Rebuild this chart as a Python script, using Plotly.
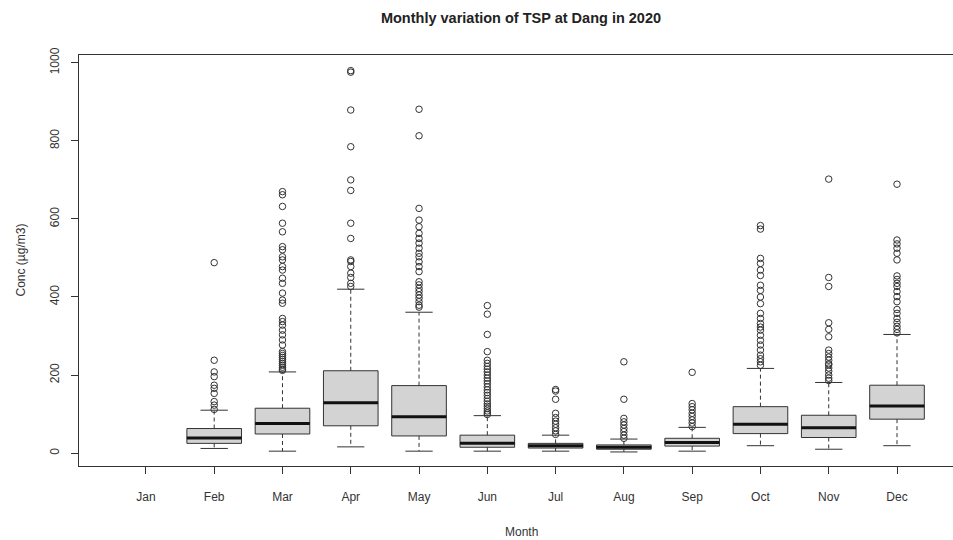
import plotly.graph_objects as go

# 월별 TSP 농도 (Dang, 2020) - 박스플롯 요약값 (Jan 자료 없음)
months = ['Jan', 'Feb', 'Mar', 'Apr', 'May', 'Jun', 'Jul', 'Aug', 'Sep', 'Oct', 'Nov', 'Dec']
lower_whisker = [None, 12, 5, 16, 5, 5, 5, 3, 5, 19, 10, 19]
q1 = [None, 25, 49, 70, 44, 15, 13, 10, 18, 50, 40, 87]
median = [None, 39, 76, 129, 93, 25, 19, 15, 27, 74, 65, 121]
q3 = [None, 63, 115, 211, 173, 46, 25, 21, 38, 119, 97, 174]
upper_whisker = [None, 110, 208, 420, 361, 96, 46, 36, 66, 217, 181, 304]

outliers = {
    'Feb': [112, 123, 132, 153, 166, 174, 196, 208, 238, 488],
    'Mar': [212, 215, 220, 225, 230, 235, 240, 245, 250, 255, 260, 277, 290, 303, 315,
            328, 337, 345, 384, 392, 410, 435, 448, 469, 478, 495, 503, 521, 529, 567,
            589, 632, 662, 670],
    'Apr': [427, 435, 450, 461, 478, 491, 495, 550, 589, 673, 700, 785, 879, 976, 980],
    'May': [374, 379, 388, 397, 405, 414, 422, 431, 439, 465, 478, 490, 503, 512, 525,
            538, 550, 563, 580, 597, 627, 813, 881],
    'Jun': [99, 103, 108, 114, 120, 126, 133, 140, 148, 155, 162, 170, 178, 185, 192,
            200, 208, 215, 222, 230, 238, 260, 304, 356, 378],
    'Jul': [48, 57, 65, 74, 82, 91, 102, 138, 159, 163],
    'Aug': [38, 46, 55, 63, 72, 80, 89, 138, 234],
    'Sep': [68, 77, 85, 94, 102, 111, 119, 127, 207],
    'Oct': [225, 234, 242, 251, 264, 277, 289, 302, 315, 323, 332, 345, 358, 383, 400,
            417, 430, 455, 469, 486, 499, 574, 583],
    'Nov': [186, 192, 200, 210, 218, 226, 229, 238, 246, 255, 264, 298, 317, 334, 427,
            450, 702],
}
outliers['Dec'] = [308, 317, 325, 335, 345, 358, 368, 388, 401, 414, 427, 435, 445, 454,
                   495, 512, 525, 536, 546, 689]

y_ticks = [0, 200, 400, 600, 800, 1000]

FONT = 'Liberation Sans, Arial, sans-serif'
INK = '#333333'
BOX_HALF = 0.4
STAPLE_HALF = 0.2

pos = [i + 1 for i, v in enumerate(median) if v is not None]
idx = [i for i, v in enumerate(median) if v is not None]

fig = go.Figure()

# 수염 (점선)
wx, wy = [], []
for p, i in zip(pos, idx):
    wx += [p, p, None, p, p, None]
    wy += [q3[i], upper_whisker[i], None, q1[i], lower_whisker[i], None]
fig.add_trace(go.Scatter(x=wx, y=wy, mode='lines', hoverinfo='skip',
                         line=dict(color=INK, width=1, dash='4px,3px')))

# 수염 끝 가로선
sx, sy = [], []
for p, i in zip(pos, idx):
    for v in (upper_whisker[i], lower_whisker[i]):
        sx += [p - STAPLE_HALF, p + STAPLE_HALF, None]
        sy += [v, v, None]
fig.add_trace(go.Scatter(x=sx, y=sy, mode='lines', hoverinfo='skip',
                         line=dict(color=INK, width=1)))

# 박스
fig.add_trace(go.Box(
    x=pos,
    q1=[q1[i] for i in idx],
    median=[median[i] for i in idx],
    q3=[q3[i] for i in idx],
    lowerfence=[q1[i] for i in idx],
    upperfence=[q3[i] for i in idx],
    width=0.8,
    whiskerwidth=0,
    fillcolor='#D3D3D3',
    line=dict(color=INK, width=1),
    boxpoints=False,
))

# 중앙값 (굵은 선)
mx, my = [], []
for p, i in zip(pos, idx):
    mx += [p - BOX_HALF, p + BOX_HALF, None]
    my += [median[i], median[i], None]
fig.add_trace(go.Scatter(x=mx, y=my, mode='lines', hoverinfo='skip',
                         line=dict(color='#111111', width=3)))

# 이상치
ox, oy = [], []
for k, m in enumerate(months):
    for v in outliers.get(m, []):
        ox.append(k + 1)
        oy.append(v)
fig.add_trace(go.Scatter(x=ox, y=oy, mode='markers',
                         marker=dict(symbol='circle-open', size=6.5,
                                     color=INK, line=dict(width=1))))

fig.update_layout(
    width=953, height=540,
    margin=dict(l=79, r=0, t=55, b=74),
    paper_bgcolor='white', plot_bgcolor='white',
    showlegend=False,
    font=dict(family=FONT, size=12, color=INK),
    title=dict(text='<b>Monthly variation of TSP at Dang in 2020</b>',
               x=521 / 953, xanchor='center', xref='container',
               y=1 - 18 / 540, yanchor='middle', yref='container',
               font=dict(family=FONT, size=14.5, color='#222222')),
    xaxis=dict(range=[0.02, 12.82], tickvals=list(range(1, 13)), ticktext=months,
               showgrid=False, zeroline=False, showline=True, mirror=True,
               linecolor=INK, linewidth=1, ticks='outside', ticklen=7,
               tickcolor=INK, ticklabelstandoff=13),
    yaxis=dict(range=[-33, 1020], tickvals=y_ticks, tickangle=-90,
               showgrid=False, zeroline=False, showline=True, mirror=False,
               linecolor=INK, linewidth=1, ticks='outside', ticklen=7,
               tickcolor=INK, ticklabelstandoff=7),
    annotations=[
        dict(text='Month', xref='paper', yref='paper', x=(521 - 79) / 874, y=0,
             yshift=-(532 - 466), xanchor='center', yanchor='middle',
             showarrow=False, font=dict(size=12)),
        dict(text='Conc (µg/m3)', xref='paper', yref='paper', x=0, y=0.5,
             xshift=-(79 - 20), xanchor='center', yanchor='middle', textangle=-90,
             showarrow=False, font=dict(size=12)),
    ],
)

# 페이지 기본 여백 제거 (953x540 창에 딱 맞도록)
fig.write_html('out.html',
               config={'displayModeBar': False},
               post_script="document.body.style.margin='0';"
                           "document.body.style.overflow='hidden';")
